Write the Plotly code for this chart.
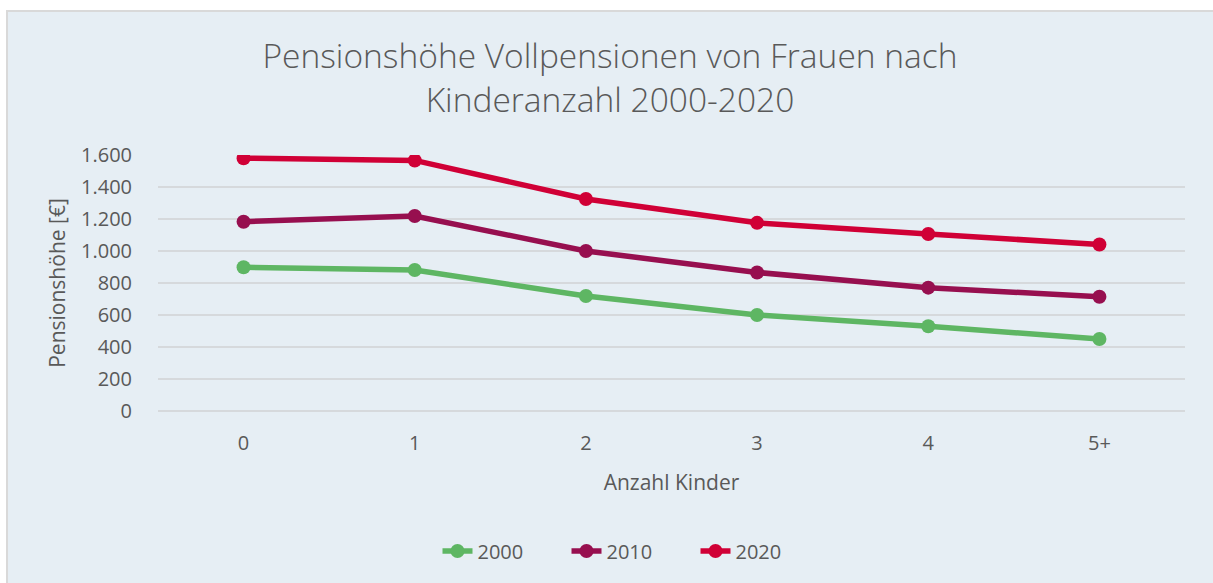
import plotly.graph_objects as go

categories = ["0", "1", "2", "3", "4", "5+"]
series_names = ["2000", "2010", "2020"]
values_2000 = [898, 881, 719, 600, 530, 450]
values_2010 = [1183, 1219, 1000, 866, 771, 714]
values_2020 = [1580, 1566, 1325, 1176, 1106, 1041]
series_colors = ["#5EB663", "#970F4F", "#D00036"]
y_ticks = [0, 200, 400, 600, 800, 1000, 1200, 1400, 1600]
y_tick_labels = ["0", "200", "400", "600", "800", "1.000", "1.200", "1.400", "1.600"]

W, H = 1213, 583
L, R, T, B = 158, 28, 155, 172
pw, ph = W - L - R, H - T - B

def px_to_xpaper(px):
    return (px - L) / pw

def px_to_ypaper(py):
    return (H - B - py) / ph

font_family = "Open Sans"
text_color = "#595959"
bg = "#E6EEF4"

fig = go.Figure()
for name, vals, col in zip(series_names, [values_2000, values_2010, values_2020], series_colors):
    fig.add_trace(go.Scatter(
        x=categories, y=vals, name=name, mode="lines+markers",
        line=dict(color=col, width=5.5),
        marker=dict(color=col, size=14),
    ))

fig.add_shape(type="rect", xref="paper", yref="paper",
              x0=px_to_xpaper(7), x1=px_to_xpaper(1216),
              y0=px_to_ypaper(590), y1=px_to_ypaper(11),
              fillcolor=bg, line=dict(color="#D9D9D9", width=2), layer="below")

fig.update_layout(
    width=W, height=H,
    margin=dict(l=L, r=R, t=T, b=B),
    paper_bgcolor="white",
    plot_bgcolor="rgba(0,0,0,0)",
    font=dict(family=font_family, color=text_color, size=20),
    title=dict(
        text="Pensionshöhe Vollpensionen von Frauen nach<br>Kinderanzahl 2000-2020",
        x=610 / W, xanchor="center", xref="container",
        y=1 - 68 / H, yanchor="top", yref="container",
        font=dict(size=33.5, color=text_color, family=font_family, weight=300),
    ),
    showlegend=True,
    legend=dict(
        orientation="h", x=px_to_xpaper(631), xanchor="center",
        y=px_to_ypaper(551), yanchor="middle",
        font=dict(size=20, color=text_color),
        entrywidth=84, entrywidthmode="pixels",
        bgcolor="rgba(0,0,0,0)", itemclick=False,
    ),
    xaxis=dict(
        type="category", range=[-0.5, 5.5],
        showgrid=False, showline=False, zeroline=False,
        ticks="outside", ticklen=14, tickcolor="rgba(0,0,0,0)",
        tickfont=dict(size=20, color=text_color),
        title=dict(text="Anzahl Kinder", font=dict(size=21, color=text_color), standoff=20),
    ),
    yaxis=dict(
        range=[0, 1600], tickvals=y_ticks, ticktext=y_tick_labels,
        showgrid=True, gridcolor="#D6D9DC", gridwidth=1.5,
        zeroline=True, zerolinecolor="#D6D9DC", zerolinewidth=1.5,
        showline=False,
        ticks="outside", ticklen=21, tickcolor="rgba(0,0,0,0)",
        tickfont=dict(size=20, color=text_color),
        title=dict(text="Pensionshöhe [€]", font=dict(size=21, color=text_color), standoff=9),
    ),
)

fig.write_html("out.html", config={"displayModeBar": False},
               post_script="document.body.style.margin='0';document.body.style.overflow='hidden';")
